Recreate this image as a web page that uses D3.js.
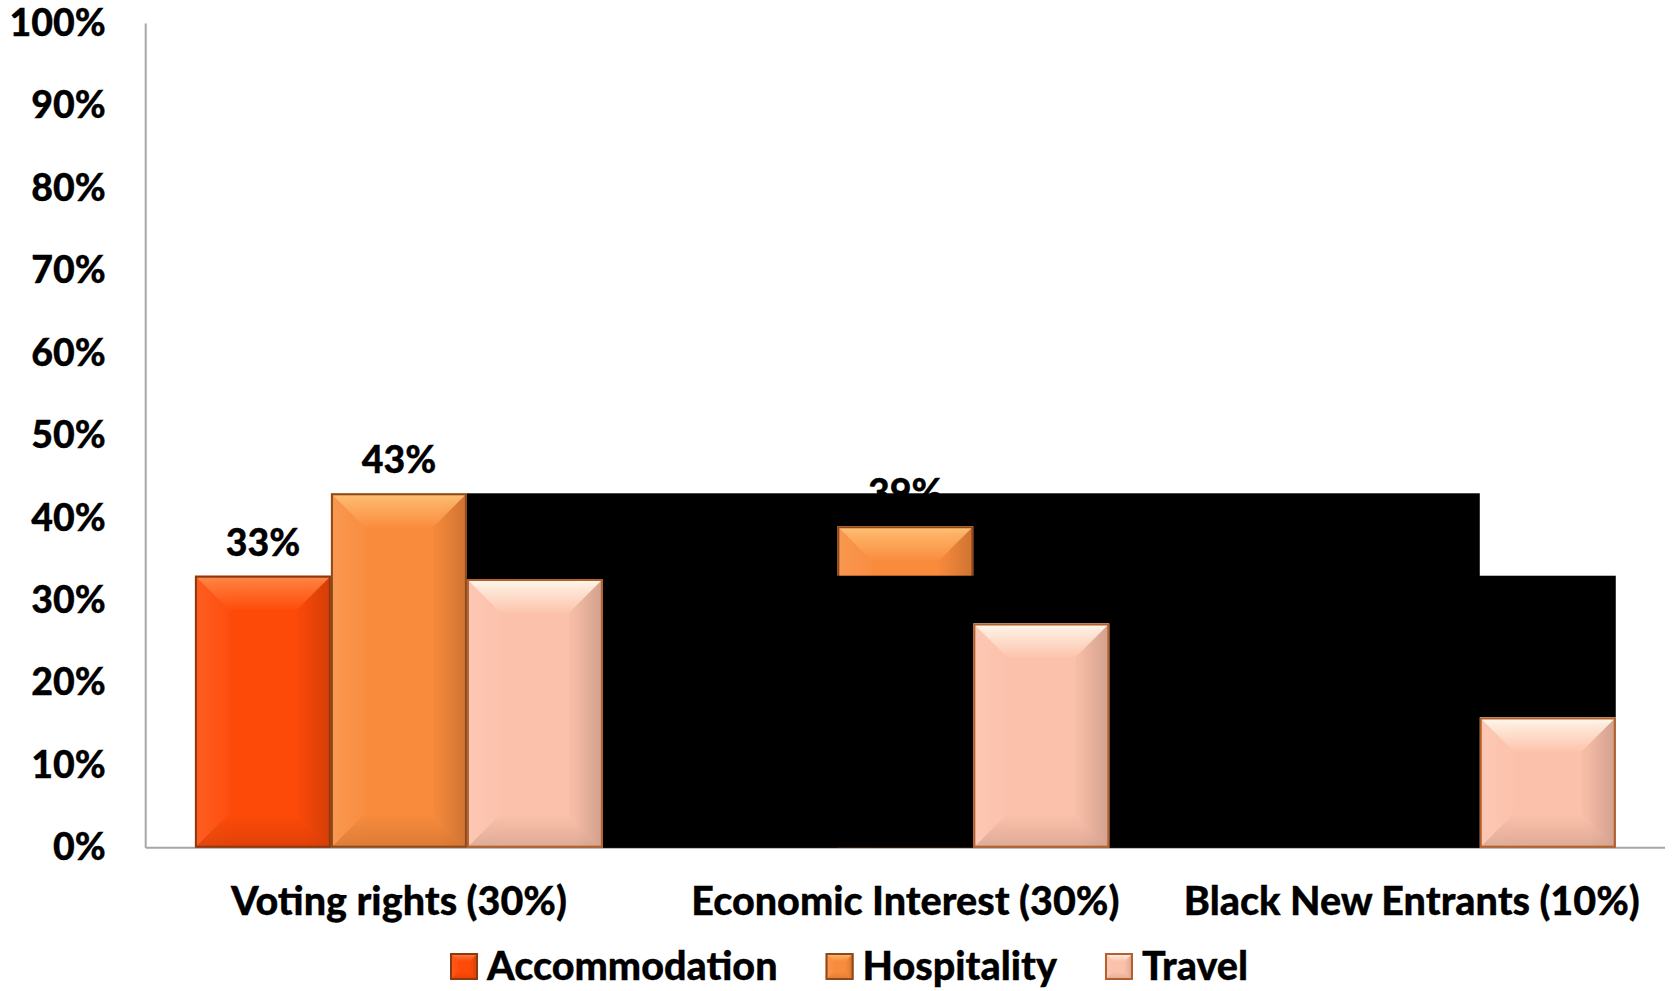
<!DOCTYPE html>
<html>
<head>
<meta charset="utf-8">
<script src="https://cdn.jsdelivr.net/npm/d3@7"></script>
<style>
  html, body { margin: 0; padding: 0; background: #fff; }
  svg { display: block; }
  text { font-family: Lato, "Open Sans", sans-serif; font-weight: 900; fill: #000; stroke: #000; stroke-width: 0.3px; }
</style>
</head>
<body>
<svg id="chart" width="1674" height="991"></svg>
<script>
// ---- data ----
const categories = ["Voting rights (30%)", "Economic Interest (30%)", "Black New Entrants (10%)"];
const seriesNames = ["Accommodation", "Hospitality", "Travel"];
const accommodation = [33, null, null];
const hospitality = [43, 39, null];
const travel = [32.6, 27.2, 15.8];
const labelledSeries = ["Accommodation", "Hospitality"];
const yTicks = [0, 10, 20, 30, 40, 50, 60, 70, 80, 90, 100];

// dark slabs painted across the plot: [category index, series, edge (0 left / 1 right)]
const slabLevels = [43, 33];
const slabFrom = [[0, "Travel", 0], [0, "Travel", 0]];
const slabTo = [[2, "Travel", 0], [2, "Travel", 1]];

const seriesValues = { Accommodation: accommodation, Hospitality: hospitality, Travel: travel };
const seriesStyle = {
  Accommodation: { fill: "#FE4A08", top: "#FF8A4A", stroke: "#8A3A12" },
  Hospitality:   { fill: "#F98B3C", top: "#FFC277", stroke: "#8C4A1C" },
  Travel:        { fill: "#FCC1AA", top: "#FFFBEF", stroke: "#B4602C" }
};

// ---- layout ----
const svg = d3.select("#chart");
const plot = { left: 145.7, right: 1665, top: 23.5, bottom: 847.7 };

const x = d3.scaleBand().domain(categories).range([plot.left, plot.right]).padding(0);
const xs = d3.scaleBand().domain(seriesNames).range([0, x.bandwidth()]).paddingInner(0).paddingOuter(0.362);
const y = d3.scaleLinear().domain([0, 100]).range([plot.bottom, plot.top]);

const fmt = v => d3.format(".0f")(v) + "%";

// gradients for the bevelled bar faces
const defs = svg.append("defs");
function grad(id, x2, y2, stops) {
  const g = defs.append("linearGradient").attr("id", id)
    .attr("x1", 0).attr("y1", 0).attr("x2", x2).attr("y2", y2);
  stops.forEach(s => g.append("stop").attr("offset", s[0]).attr("stop-color", s[1]).attr("stop-opacity", s[2]));
}
grad("bevLeft", 1, 0, [[0, "#fff", 0.07], [1, "#fff", 0.02]]);
grad("bevRight", 1, 0, [[0, "#000", 0.02], [1, "#000", 0.12]]);
grad("bevBottom", 0, 1, [[0, "#000", 0.0], [1, "#000", 0.12]]);
grad("body", 1, 0, [[0, "#fff", 0.04], [0.3, "#fff", 0.0], [0.8, "#000", 0.0], [1, "#000", 0.06]]);
seriesNames.forEach((s, i) => {
  grad("top" + i, 0, 1, [[0, seriesStyle[s].top, 1], [0.25, seriesStyle[s].top, 0.7], [1, seriesStyle[s].top, 0.05]]);
});

function bevelBar(parent, bx, by, w, h, sName, maxBevel) {
  const st = seriesStyle[sName];
  const si = seriesNames.indexOf(sName);
  const b = Math.min(maxBevel, h / 2, w / 2);
  const g = parent.append("g").attr("transform", `translate(${bx},${by})`);
  g.append("rect").attr("width", w).attr("height", h).attr("fill", st.fill);
  g.append("rect").attr("width", w).attr("height", h).attr("fill", "url(#body)");
  g.append("polygon").attr("points", `0,0 ${b},${b} ${b},${h - b} 0,${h}`).attr("fill", "url(#bevLeft)");
  g.append("polygon").attr("points", `${w},0 ${w - b},${b} ${w - b},${h - b} ${w},${h}`).attr("fill", "url(#bevRight)");
  g.append("polygon").attr("points", `0,${h} ${w},${h} ${w - b},${h - b} ${b},${h - b}`).attr("fill", "url(#bevBottom)");
  g.append("polygon").attr("points", `0,0 ${w},0 ${w - b},${b} ${b},${b}`).attr("fill", `url(#top${si})`);
  g.append("rect").attr("x", 1).attr("y", 1).attr("width", w - 2).attr("height", h - 2)
    .attr("fill", "none").attr("stroke", st.stroke).attr("stroke-width", 2);
  return g;
}

// ---- axes ----
svg.append("line").attr("x1", plot.left).attr("x2", plot.left).attr("y1", y(100)).attr("y2", y(0))
  .attr("stroke", "#A6A6A6").attr("stroke-width", 2);
svg.append("line").attr("x1", plot.left).attr("x2", plot.right).attr("y1", y(0)).attr("y2", y(0))
  .attr("stroke", "#A6A6A6").attr("stroke-width", 2);

const yAxis = d3.axisLeft(y).tickValues(yTicks).tickFormat(fmt).tickSize(0).tickPadding(40);
const yg = svg.append("g").attr("transform", `translate(${plot.left},0)`).call(yAxis);
yg.select(".domain").remove();
yg.selectAll("text").attr("font-size", 37.5).attr("font-family", null).attr("fill", "#000");

const xAxis = d3.axisBottom(x).tickSize(0).tickPadding(0);
const xg = svg.append("g").attr("transform", `translate(0,${y(0)})`).call(xAxis);
xg.select(".domain").remove();
xg.selectAll("text").attr("dy", null).attr("y", 915 - y(0)).attr("font-size", 39.5)
  .attr("font-family", null).attr("fill", "#000");

// ---- bar records ----
const bars = [];
seriesNames.forEach(s => {
  seriesValues[s].forEach((v, ci) => {
    if (v == null) return;
    bars.push({ series: s, cat: categories[ci], value: v });
  });
});
const barX = d => x(d.cat) + xs(d.series);

// value labels (painted first, the dark slab may cover them)
const labelLayer = svg.append("g");
labelLayer.selectAll("text").data(bars.filter(d => labelledSeries.includes(d.series))).join("text")
  .attr("x", d => barX(d) + xs.bandwidth() / 2)
  .attr("y", d => y(d.value) - 20)
  .attr("text-anchor", "middle")
  .attr("font-size", 37.5)
  .text(d => fmt(d.value));

function slabX(ref) {
  return x(categories[ref[0]]) + xs(ref[1]) + ref[2] * xs.bandwidth();
}
function drawSlab(i) {
  const x0 = slabX(slabFrom[i]), x1 = slabX(slabTo[i]);
  svg.append("rect").attr("x", x0).attr("y", y(slabLevels[i]))
    .attr("width", x1 - x0).attr("height", y(0) - y(slabLevels[i])).attr("fill", "#000");
}

drawSlab(0);
const barLayer1 = svg.append("g");
bars.filter(d => d.series !== "Travel").forEach(d => {
  bevelBar(barLayer1, barX(d), y(d.value), xs.bandwidth(), y(0) - y(d.value), d.series, 34);
});
drawSlab(1);
const barLayer2 = svg.append("g");
bars.filter(d => d.series === "Travel").forEach(d => {
  bevelBar(barLayer2, barX(d), y(d.value), xs.bandwidth(), y(0) - y(d.value), d.series, 34);
});

// ---- legend ----
const legend = svg.append("g");
const sw = 28, swGap = 9, itemGap = 48;
let cursor = 0;
seriesNames.forEach(s => {
  const item = legend.append("g").attr("transform", `translate(${cursor},0)`);
  bevelBar(item, 0, -27, sw, 27, s, 8);
  const t = item.append("text").attr("x", sw + swGap).attr("y", 0).attr("font-size", 39.5).text(s);
  cursor += sw + swGap + t.node().getComputedTextLength() + itemGap;
});
const legendWidth = cursor - itemGap;
legend.attr("transform", `translate(${849 - legendWidth / 2},980)`);
</script>
</body>
</html>
